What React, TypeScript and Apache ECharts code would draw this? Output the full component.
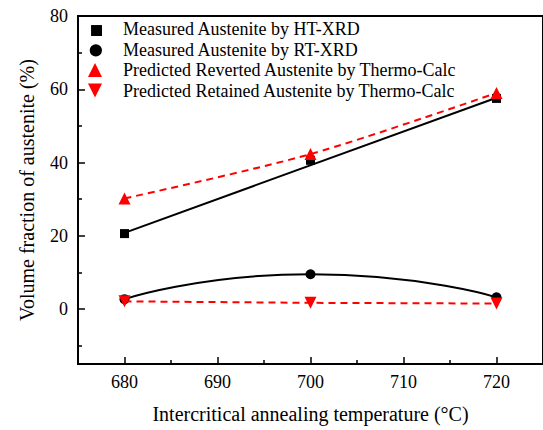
import React, { useEffect, useRef } from "react";
import * as echarts from "echarts";

const temps = [680, 700, 720];
const htXrd = [20.6, 40.6, 57.5];
const rtXrd = [2.7, 9.5, 3.2];
const reverted = [30.2, 42.3, 59.0];
const retained = [2.1, 1.7, 1.5];
const htFitX = [680, 720];
const htFitY = [20.8, 57.7];

const xMajor = [680, 690, 700, 710, 720];
const xMinor = [685, 695, 705, 715];
const yMajor = [0, 20, 40, 60, 80];
const yMinor = [-10, 10, 30, 50, 70];

const names = [
  "Measured Austenite by HT-XRD",
  "Measured Austenite by RT-XRD",
  "Predicted Reverted Austenite by Thermo-Calc",
  "Predicted Retained Austenite by Thermo-Calc",
];

const FONT = "Liberation Serif";
const downTri = "path://M0,0L10,0L5,10Z";

export default function App() {
  const ref = useRef<HTMLDivElement>(null);
  useEffect(() => {
    const chart = echarts.init(ref.current!, null, { renderer: "svg" });
    const pts = (ys: number[]) => temps.map((t, i) => [t, ys[i]]);
    const axisCommon = {
      axisLine: { show: true, onZero: false, lineStyle: { color: "#000", width: 2 } },
      splitLine: { show: false },
    };
    chart.setOption({
      animation: false,
      backgroundColor: "#fff",
      textStyle: { fontFamily: FONT, color: "#000" },
      grid: {
        left: 78,
        top: 16,
        right: -4,
        bottom: 66,
        show: true,
        borderColor: "#000",
        borderWidth: 2,
        containLabel: false,
      },
      legend: {
        orient: "vertical",
        left: 88,
        top: 20,
        padding: 0,
        itemWidth: 14,
        itemHeight: 14,
        itemGap: 2.5,
        textStyle: { fontFamily: FONT, fontSize: 18, color: "#000", padding: [0, 0, 0, 16] },
        data: [
          { name: names[0], icon: "path://M0,0L0,0M2.5,2.5L11.5,2.5L11.5,11.5L2.5,11.5Z" },
          { name: names[1], icon: "path://M0,0L0,0M1.5,7A5.5,5.5 0 1,0 12.5,7A5.5,5.5 0 1,0 1.5,7Z" },
          { name: names[2], icon: "path://M7,0L14,14L0,14Z" },
          { name: names[3], icon: "path://M0,0L14,0L7,14Z" },
        ],
      },
      xAxis: [
        {
          type: "value",
          min: 675,
          max: 725,
          position: "bottom",
          ...axisCommon,
          axisTick: { show: true, inside: true, length: 7, customValues: xMajor, lineStyle: { color: "#000", width: 1.5 } },
          axisLabel: { customValues: xMajor, color: "#000", fontSize: 18, fontFamily: FONT, margin: 9 },
          name: "Intercritical annealing temperature (°C)",
          nameLocation: "middle",
          nameGap: 40,
          nameTextStyle: { fontFamily: FONT, fontSize: 20, color: "#000" },
        },
        {
          type: "value",
          min: 675,
          max: 725,
          position: "bottom",
          axisLine: { show: false, onZero: false },
          splitLine: { show: false },
          axisTick: { show: true, inside: true, length: 4, customValues: xMinor, lineStyle: { color: "#000", width: 1.5 } },
          axisLabel: { show: false },
        },
      ],
      yAxis: [
        {
          type: "value",
          min: -15,
          max: 80,
          position: "left",
          ...axisCommon,
          axisTick: { show: true, inside: true, length: 7, customValues: yMajor, lineStyle: { color: "#000", width: 1.5 } },
          axisLabel: { customValues: yMajor, color: "#000", fontSize: 18, fontFamily: FONT, margin: 10 },
          name: "Volume fraction of austenite (%)",
          nameLocation: "middle",
          nameGap: 41,
          nameTextStyle: { fontFamily: FONT, fontSize: 20, color: "#000" },
        },
        {
          type: "value",
          min: -15,
          max: 80,
          position: "left",
          axisLine: { show: false, onZero: false },
          splitLine: { show: false },
          axisTick: { show: true, inside: true, length: 4, customValues: yMinor, lineStyle: { color: "#000", width: 1.5 } },
          axisLabel: { show: false },
        },
      ],
      series: [
        {
          name: "htfit",
          type: "line",
          data: htFitX.map((x, i) => [x, htFitY[i]]),
          showSymbol: false,
          lineStyle: { color: "#000", width: 2 },
          z: 2,
          silent: true,
        },
        {
          name: names[1],
          type: "line",
          data: pts(rtXrd),
          smooth: 0.6,
          symbol: "circle",
          symbolSize: 10,
          itemStyle: { color: "#000" },
          lineStyle: { color: "#000", width: 2 },
          z: 3,
        },
        {
          name: names[2],
          type: "line",
          data: pts(reverted),
          smooth: 0.3,
          symbol: "triangle",
          symbolSize: 12,
          itemStyle: { color: "#ff0000" },
          lineStyle: { color: "#ff0000", width: 2, type: [7, 5] },
          z: 4,
        },
        {
          name: names[3],
          type: "line",
          data: pts(retained),
          symbol: downTri,
          symbolSize: 12,
          itemStyle: { color: "#ff0000" },
          lineStyle: { color: "#ff0000", width: 2, type: [7, 5] },
          z: 4,
        },
        {
          name: names[0],
          type: "scatter",
          data: pts(htXrd),
          symbol: "rect",
          symbolSize: 9,
          itemStyle: { color: "#000", opacity: 1 },
          z: 3,
        },
      ],
    });
    return () => chart.dispose();
  }, []);
  return (
    <div
      ref={ref}
      style={{ position: "fixed", left: 0, top: 0, width: 543, height: 430, background: "#fff" }}
    />
  );
}
